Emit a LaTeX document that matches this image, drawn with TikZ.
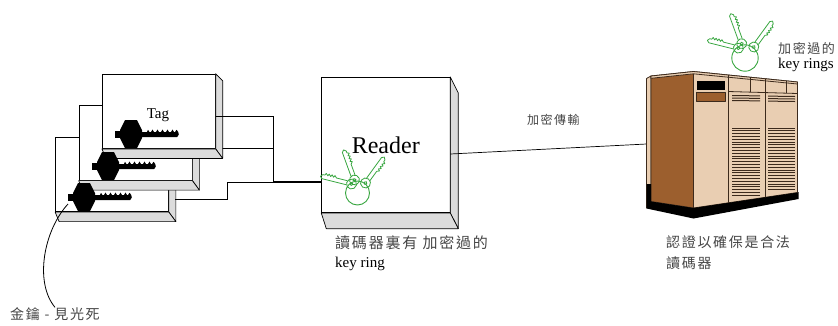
\documentclass[tikz,border=0pt]{standalone}
\usepackage{fontspec}
\setmainfont{Liberation Serif}
\newfontfamily\cjk{Noto Sans CJK TC}[LetterSpace=12]
\usetikzlibrary{calc}

\definecolor{facegray}{HTML}{DCDCDC}
\definecolor{keygreen}{RGB}{56,166,64}
\definecolor{cjkgray}{HTML}{454545}
\definecolor{cabbrown}{RGB}{156,95,46}
\definecolor{cabbeige}{RGB}{233,206,178}
\definecolor{cabline}{RGB}{60,42,28}

% right and bottom bevel faces of a box whose front face is node #1
% #2 side width, #3 drop of the side's top edge, #4 slab height, #5 slab's left inset
\newcommand\bevelfaces[5]{%
  \path[side] (#1.north east) -- ++(#2,#3) -- ($(#1.south east)+(#2,#4)$) -- (#1.south east) -- cycle;
  \path[side] (#1.south west) -- (#1.south east) -- ($(#1.south east)+(#2,#4)$) -- ($(#1.south west)+(#5,#4)$) -- cycle;
}

\tikzset{
  front/.style={draw, fill=white, inner sep=0pt, line width=0.7pt},
  side/.style={draw, fill=facegray, line width=0.7pt, line join=round},
  wire/.style={draw, line width=0.7pt},
  cjklabel/.style={font=\cjk\fontsize{15}{19}\selectfont, text=cjkgray, inner sep=0pt, align=left},
  latlabel/.style={font=\fontsize{15}{18}\selectfont, inner sep=0pt},
  tagcard/.style={front, minimum width=113pt, minimum height=74.5pt},
  tagkey/.pic={
    \fill (-6,-14) -- (6,-14) -- (11,-4) -- (11,4) -- (6,14) -- (-6,14) -- (-11,4) -- (-11,-4) -- cycle;
    \fill (-16,-3.5) rectangle (-10,4);
    \fill (10,-2) -- (16,-2) -- (17,-4.2) -- (18.5,-2) -- (20,-2) -- (21.5,-4.5) -- (23,-2)
      -- (25,-2) -- (26.5,-4.5) -- (28,-2) -- (30,-2) -- (31.5,-4.5) -- (33,-2)
      -- (35,-2) -- (36.5,-4.5) -- (38,-2) -- (40,-2) -- (41.5,-4.5) -- (43,-2)
      -- (44,-2) -- (45.5,-4.2) -- (47.2,-2.2) -- (47.8,0.5) -- (46.2,3) -- (10,3) -- cycle;
  },
  gkey/.pic={
    \draw[keygreen, line width=0.8pt] (0,0) circle[radius=5];
    \draw[keygreen, line width=0.8pt] (0,0) circle[radius=1.5];
    \draw[keygreen, line width=0.8pt, line join=round] (4.6,-2) -- (30,-2) -- (32,0) -- (30,2.2)
      -- (28,2.2) -- (27,4.2) -- (25,2.2) -- (24,4.2) -- (22,2.2) -- (21,4.2) -- (19,2.2)
      -- (18,4.2) -- (16,2.2) -- (4.6,2.2);
  },
  keyring/.pic={
    \pic[rotate=166] at (-6,-9) {gkey};
    \pic[rotate=110] at (-3,-13) {gkey};
    \pic[rotate=54] at (8,-10) {gkey};
    \draw[keygreen, line width=0.9pt] (0,0) circle[radius=12];
  }
}

\begin{document}
\begin{tikzpicture}[x=1pt, y=-1pt]
\useasboundingbox (0,0) rectangle (838,325);

% ---------- stacked tags ----------
\coordinate (jn) at (273,182);

\node[tagcard] (tagC) at (112,174.5) {};
\bevelfaces{tagC}{7}{7}{9.5}{4}
\draw[wire] ($(tagC.east)+(6.5,24.8)$) -| ($(jn)+(-46,0)$) -- (jn);

\node[tagcard] (tagB) at (135.5,143) {};
\bevelfaces{tagB}{7}{7}{9.5}{4}
\draw[wire] ($(tagB.east)+(6.5,5)$) coordinate (b0) -- (b0 -| jn);

\node[tagcard] (tagA) at (158.8,111.3) {};
\bevelfaces{tagA}{7}{7}{9.5}{4}
\draw[wire] ($(tagA.east)+(0,5.4)$) -| (jn);
\node[latlabel, anchor=base] (tagtxt) at (158,118) {Tag};

\pic at (131,134) {tagkey};
\pic at (108,166) {tagkey};
\pic at (84,197) {tagkey};

% ---------- reader ----------
\node[front, minimum width=128.3pt, minimum height=135.4pt] (reader) at (385.8,145) {};
\bevelfaces{reader}{8}{16}{15.6}{5}
\node[font=\fontsize{24}{28}\selectfont, inner sep=0pt, anchor=base] (readertxt) at (385.8,153) {Reader};
\draw[line width=1.6pt] (jn) -- (jn -| reader.west);

% ---------- server cabinet ----------
\coordinate (srv) at (646.5,144);
\draw[wire] ($(reader.east)+(0,9)$) -- (srv);

\begin{scope}[line width=0.8pt, draw=cabline, line join=round]
  % left edge strip, side panel and front
  \filldraw[fill=cabbeige] (646.5,78.5) -- (651,76) -- (651,201.5) -- (646.5,208) -- cycle;
  \filldraw[fill=cabbrown] (651,76) -- (693.5,71.5) -- (693.5,208) -- (651,201.5) -- cycle;
  \filldraw[fill=cabbeige] (693.5,71.5) -- (797.5,82) -- (797.5,192.5) -- (693.5,208) -- cycle;
  % roof lip
  \filldraw[fill=cabbeige] (651,76) -- (693.5,71.5) -- (797.5,82) -- (797.5,84) -- (693.5,73.8) -- (651,78.3) -- cycle;
  % base shadow
  \fill[black] (646.5,184) -- (651,184) -- (651,201.5) -- (693.5,208) -- (797.5,192.5) -- (798.5,192)
    -- (798.5,199) -- (693.5,218.5) -- (646.5,208.5) -- cycle;
  % section dividers
  \draw (728.3,75) -- (728.3,202.8);
  \draw (765,78.7) -- (765,197.3);
  % top panels of the two louvred sections
  \draw (728.3,91.5) -- (797.5,93.5);
  \draw (750,77.2) -- (750,92.1);
  \draw (786.7,81) -- (786.7,93.2);
  % display and badge
  \fill[black] (696.7,80.7) rectangle (725,90);
  \filldraw[fill=cabbrown] (696.7,92.3) rectangle (725,101);
  % upper louvres
  \foreach \yy in {95.5,98,100.5} {
    \draw[line width=1pt] (732,\yy) -- (760,\yy+0.4);
    \draw[line width=1pt] (768,\yy+0.6) -- (795,\yy+1);
  }
  % lower louvres
  \foreach \k in {0,...,24} \draw[line width=0.7pt] (732,128+2.8*\k) -- (760,128+2.8*\k);
  \foreach \k in {0,...,22} \draw[line width=0.7pt] (768,128+2.8*\k) -- (795,128+2.8*\k);
\end{scope}

% ---------- key rings ----------
\pic at (357.5,193) {keyring};
\pic[scale=1.1] at (745,58) {keyring};

% ---------- labels ----------
\node[cjklabel, anchor=west] (readerlab) at (335,243) {讀碼器裏有 加密過的};
\node[latlabel, anchor=base west] (readerlab2) at (335,267) {key ring};
\node[cjklabel, font=\cjk\fontsize{12}{14}\selectfont, anchor=west] (translab) at (527,120) {加密傳輸};
\node[cjklabel, font=\cjk\fontsize{13}{16}\selectfont, anchor=west] (srvkeylab) at (778,48) {加密過的};
\node[latlabel, anchor=base west] (srvkeylab2) at (778,68) {key rings};
\node[cjklabel, font=\cjk\fontsize{14}{17}\selectfont, anchor=west] (authlab) at (666,242) {認證以確保是合法};
\node[cjklabel, font=\cjk\fontsize{14}{17}\selectfont, anchor=west] (authlab2) at (666,263) {讀碼器};
\node[cjklabel, font=\cjk\fontsize{14}{17}\selectfont, anchor=west] (goldkey) at (10,314) {金鑰 - 見光死};

\coordinate (ptr) at (68,204);
\draw[line width=0.8pt] (ptr) .. controls (44,230) and (34,282) .. (goldkey.north);
\end{tikzpicture}
\end{document}
